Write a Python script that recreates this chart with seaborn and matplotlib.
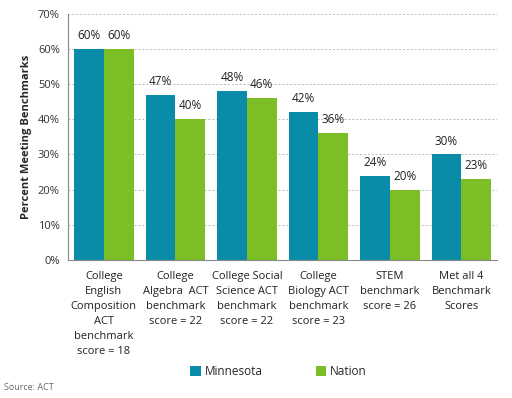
import numpy as np
import pandas as pd
import matplotlib
matplotlib.use("Agg")
import matplotlib.pyplot as plt
import seaborn as sns

categories = [
    "College\nEnglish\nComposition\nACT\nbenchmark\nscore = 18",
    "College\nAlgebra  ACT\nbenchmark\nscore = 22",
    "College Social\nScience ACT\nbenchmark\nscore = 22",
    "College\nBiology ACT\nbenchmark\nscore = 23",
    "STEM\nbenchmark\nscore = 26",
    "Met all 4\nBenchmark\nScores",
]
minnesota = [60, 47, 48, 42, 24, 30]
nation = [60, 40, 46, 36, 20, 23]
series = ["Minnesota", "Nation"]
colors = ["#0A8CA8", "#7BBE25"]

df = pd.DataFrame({
    "cat": categories * 2,
    "val": minnesota + nation,
    "series": [series[0]] * 6 + [series[1]] * 6,
})

sns.set_style("white")
plt.rcParams["font.family"] = ["Open Sans", "DejaVu Sans"]

fig = plt.figure(figsize=(5.12, 3.98), dpi=100)
ax = fig.add_axes([0.133, 0.347, 0.838, 0.618])

sns.barplot(data=df, x="cat", y="val", hue="series", palette=colors,
            width=0.83, saturation=1, linewidth=0, ax=ax, legend=True)

for cont in ax.containers:
    ax.bar_label(cont, labels=[f"{v:.0f}%" for v in cont.datavalues],
                 padding=5, fontsize=8.5, color="#222222")

ax.set_ylim(0, 70)
ax.set_yticks(np.arange(0, 71, 10))
ax.set_yticklabels([f"{t}%" for t in range(0, 71, 10)], fontsize=8, color="#333333")
ax.tick_params(axis="x", labelsize=8, colors="#222222", length=0, pad=8)
for lbl in ax.get_xticklabels():
    lbl.set_linespacing(1.5)
ax.tick_params(axis="y", length=0, pad=6)
ax.set_xlabel("")
ax.set_ylabel("Percent Meeting Benchmarks", fontsize=8, fontweight="bold", labelpad=4)
ax.yaxis.grid(True, linestyle=(0, (2, 2)), color="#BBBBBB", linewidth=0.7)
ax.set_axisbelow(True)
for s in ["top", "right"]:
    ax.spines[s].set_visible(False)
for s in ["left", "bottom"]:
    ax.spines[s].set_color("#888888")
    ax.spines[s].set_linewidth(0.8)

ax.legend(loc="upper center", bbox_to_anchor=(0.49, -0.385), ncol=2, frameon=False,
          fontsize=8.5, handlelength=0.9, handleheight=0.9, columnspacing=4.5,
          handletextpad=0.3)

fig.text(0.008, 0.02, "Source: ACT", fontsize=6.5, color="#666666")

fig.savefig("out.png", dpi=100)
